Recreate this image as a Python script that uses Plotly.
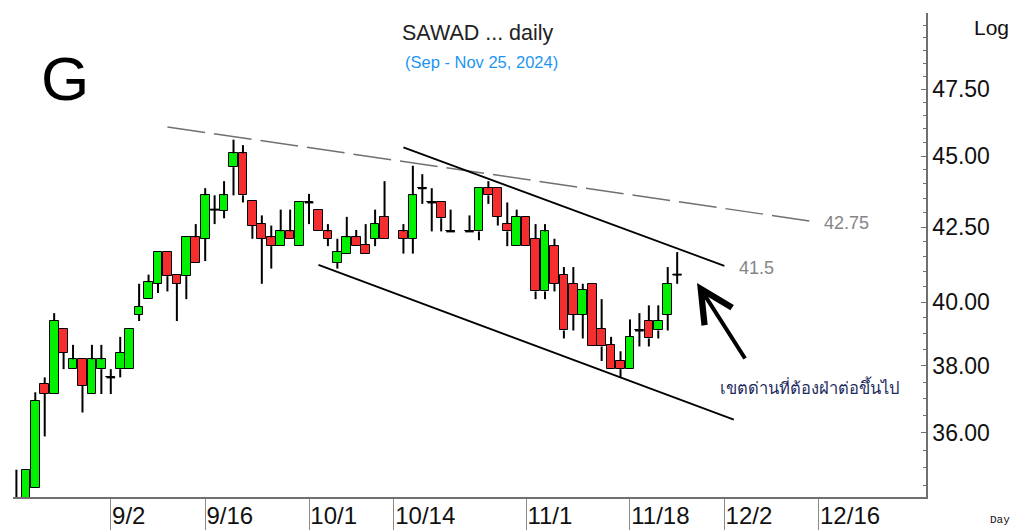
import numpy as np
import plotly.graph_objects as go

# ---------------- data ----------------
dates = [
    "2024-08-19", "2024-08-20", "2024-08-21", "2024-08-22", "2024-08-23",
    "2024-08-26", "2024-08-27", "2024-08-28", "2024-08-29", "2024-08-30",
    "2024-09-02", "2024-09-03", "2024-09-04", "2024-09-05", "2024-09-06",
    "2024-09-09", "2024-09-10", "2024-09-11", "2024-09-12", "2024-09-13",
    "2024-09-16", "2024-09-17", "2024-09-18", "2024-09-19", "2024-09-20",
    "2024-09-23", "2024-09-24", "2024-09-25", "2024-09-26", "2024-09-27",
    "2024-09-30", "2024-10-01", "2024-10-02", "2024-10-03", "2024-10-04",
    "2024-10-07", "2024-10-08", "2024-10-09", "2024-10-10", "2024-10-11",
    "2024-10-15", "2024-10-16", "2024-10-17", "2024-10-18", "2024-10-21",
    "2024-10-22", "2024-10-24", "2024-10-25", "2024-10-28", "2024-10-29",
    "2024-10-30", "2024-10-31", "2024-11-01", "2024-11-04", "2024-11-05",
    "2024-11-06", "2024-11-07", "2024-11-08", "2024-11-11", "2024-11-12",
    "2024-11-13", "2024-11-14", "2024-11-15", "2024-11-18", "2024-11-19",
    "2024-11-20", "2024-11-21", "2024-11-22", "2024-11-25",
]
open_ = [
    33.75, 34.00, 34.45, 37.45, 37.15, 39.15, 37.90, 38.20, 37.15, 37.90,
    37.65, 37.90, 37.90, 39.60, 40.10, 40.60, 41.65, 40.90, 40.85, 42.15,
    42.10, 43.10, 43.05, 44.60, 45.10, 43.40, 42.60, 42.15, 41.85, 42.35,
    41.85, 43.35, 43.10, 42.35, 41.30, 41.60, 42.15, 41.90, 42.10, 42.85,
    42.35, 42.10, 43.85, 43.35, 43.35, 42.35, 42.35, 42.35, 43.85, 43.85,
    42.60, 41.85, 42.85, 42.10, 40.35, 41.85, 40.90, 40.60, 39.60, 40.60,
    39.15, 38.65, 38.15, 37.90, 39.10, 39.40, 39.10, 39.60, 40.90,
]
high = [
    34.95, 34.95, 37.20, 37.65, 39.65, 39.15, 38.65, 38.20, 38.65, 38.65,
    37.90, 38.90, 39.15, 40.60, 40.90, 41.65, 41.65, 40.90, 42.15, 42.60,
    43.85, 43.60, 44.10, 45.60, 45.40, 43.40, 42.90, 42.55, 43.10, 43.10,
    43.35, 43.65, 43.10, 42.60, 42.10, 42.85, 42.40, 42.60, 43.10, 44.10,
    42.60, 44.65, 44.35, 43.85, 43.35, 43.10, 42.90, 43.85, 44.10, 43.85,
    43.35, 43.10, 42.85, 42.60, 42.60, 42.10, 41.15, 41.15, 40.60, 40.60,
    40.10, 38.90, 38.45, 39.45, 39.65, 39.90, 39.90, 41.15, 41.65,
]
low = [
    33.50, 33.90, 34.45, 35.90, 37.15, 37.90, 37.90, 36.60, 37.15, 37.15,
    37.15, 37.65, 37.90, 39.40, 40.10, 40.30, 40.35, 39.40, 40.10, 41.30,
    41.35, 42.60, 42.80, 43.60, 43.35, 42.10, 40.60, 41.10, 41.85, 42.10,
    41.85, 42.60, 42.35, 41.85, 41.10, 41.60, 41.85, 41.60, 41.85, 42.10,
    41.60, 41.60, 43.30, 42.35, 42.35, 42.35, 42.35, 42.05, 43.30, 42.55,
    41.85, 41.85, 41.85, 40.10, 40.10, 40.35, 38.85, 39.10, 38.85, 38.60,
    38.15, 37.90, 37.65, 37.90, 38.60, 38.60, 38.85, 39.10, 40.60,
]
close = [
    34.00, 34.95, 36.95, 37.15, 39.40, 38.40, 38.20, 37.40, 38.20, 38.20,
    37.65, 38.40, 39.15, 39.85, 40.65, 41.65, 40.85, 40.60, 42.15, 41.30,
    43.60, 43.10, 43.60, 45.10, 43.60, 42.55, 42.10, 41.85, 42.35, 42.10,
    43.35, 43.35, 42.35, 42.10, 41.65, 42.15, 41.85, 41.60, 42.60, 42.10,
    42.10, 43.60, 43.85, 43.35, 42.80, 42.35, 42.35, 43.85, 43.60, 42.85,
    42.35, 42.85, 41.85, 40.35, 42.35, 40.60, 39.10, 39.60, 40.40, 38.60,
    38.60, 37.90, 37.90, 38.90, 39.10, 38.85, 39.40, 40.60, 40.90,
]

tick_dates = ["2024-09-02", "2024-09-16", "2024-10-01", "2024-10-14",
              "2024-11-01", "2024-11-18", "2024-12-02", "2024-12-16"]
tick_text = ["9/2", "9/16", "10/1", "10/14", "11/1", "11/18", "12/2", "12/16"]

price_ticks = [36.0, 38.0, 40.0, 42.5, 45.0, 47.5]
price_text = ["36.00", "38.00", "40.00", "42.50", "45.00", "47.50"]

# trend lines (date, price)
dashed_dates = ["2024-09-10", "2024-12-13"]
dashed_prices = [46.07, 42.71]
upper_dates = ["2024-10-15", "2024-12-02"]
upper_prices = [45.32, 41.19]
lower_dates = ["2024-10-02", "2024-12-03"]
lower_prices = [41.22, 36.39]

ORIGIN = "2024-09-02"
BODY_W = 0.92
UP_COLOR = "#00F000"
DOWN_COLOR = "#F42E2E"


def bday(ds):
    return np.busday_count(ORIGIN, np.array(ds, dtype="datetime64[D]")).tolist()


x = bday(dates)
tickpos = bday(tick_dates)

o = np.array(open_)
c = np.array(close)
h = np.array(high)
lo = np.array(low)
top = np.maximum(o, c)
bot = np.minimum(o, c)

# wick segments (above and below the body) + doji bars
wx, wy = [], []
for xi, hi, li, ti, bi in zip(x, h, lo, top, bot):
    if hi > ti:
        wx += [xi, xi, None]
        wy += [hi, ti, None]
    if li < bi:
        wx += [xi, xi, None]
        wy += [bi, li, None]
    if ti == bi:
        wx += [xi - BODY_W / 2, xi + BODY_W / 2, None]
        wy += [ti, ti, None]

fig = go.Figure()

fig.add_trace(go.Bar(
    x=x, y=(top - bot).tolist(), base=bot.tolist(), width=BODY_W,
    marker=dict(color=[UP_COLOR if ci >= oi else DOWN_COLOR for oi, ci in zip(open_, close)],
                line=dict(color="black", width=1)),
    showlegend=False, hoverinfo="skip",
))
fig.add_trace(go.Scatter(x=wx, y=wy, mode="lines",
                         line=dict(color="black", width=2),
                         showlegend=False, hoverinfo="skip"))

fig.add_trace(go.Scatter(x=bday(dashed_dates), y=dashed_prices, mode="lines",
                         line=dict(color="#707070", width=1.5, dash="38px,9px"),
                         showlegend=False, hoverinfo="skip"))
fig.add_trace(go.Scatter(x=bday(upper_dates), y=upper_prices, mode="lines",
                         line=dict(color="black", width=1.8),
                         showlegend=False, hoverinfo="skip"))
fig.add_trace(go.Scatter(x=bday(lower_dates), y=lower_prices, mode="lines",
                         line=dict(color="black", width=1.8),
                         showlegend=False, hoverinfo="skip"))

minor_vals = [v / 2 for v in range(68, 102)]

fig.update_layout(
    width=1010, height=530,
    margin=dict(l=13, r=84, t=13, b=33, autoexpand=False),
    paper_bgcolor="white", plot_bgcolor="white",
    bargap=0,
    font=dict(family="Liberation Sans, Arial, sans-serif", color="#111"),
    xaxis=dict(
        range=[-10.36, 86.36], automargin=False,
        showgrid=False, zeroline=False,
        showline=True, linecolor="#707070", linewidth=1.5,
        tickmode="array", tickvals=tickpos, ticktext=tick_text,
        ticks="outside", ticklen=33, tickcolor="#8a8a8a", tickwidth=1,
        ticklabelposition="outside right", ticklabelstandoff=-4,
        tickfont=dict(size=24, color="#111"),
    ),
    yaxis=dict(
        type="log", side="right", automargin=False,
        range=[np.log10(34.19), np.log10(50.5)],
        showgrid=False, zeroline=False,
        showline=True, linecolor="#707070", linewidth=1.5,
        tickmode="array", tickvals=price_ticks, ticktext=price_text,
        ticks="inside", ticklen=5, tickcolor="#707070",
        tickfont=dict(size=23, color="#111"),
        minor=dict(tickmode="array", tickvals=minor_vals, ticks="inside",
                   ticklen=3, tickcolor="#707070"),
    ),
)

annos = [
    dict(text="SAWAD ... daily", x=0.5093, y=0.9587, font=dict(size=21.5, color="#222")),
    dict(text="(Sep - Nov 25, 2024)", x=0.5126, y=0.8988, font=dict(size=16.5, color="#1E96F0")),
    dict(text="G", x=0.057, y=0.8657, font=dict(size=62, color="black")),
    dict(text="Log", x=1.0715, y=0.971, font=dict(size=21, color="#111")),
    dict(text="Day", x=1.081, y=-0.047,
         font=dict(size=11, color="#111", family="Liberation Mono, Courier New, monospace")),
    dict(text="42.75", x=0.886, y=0.566, xanchor="left", font=dict(size=18, color="#858585")),
    dict(text="41.5", x=0.793, y=0.473, xanchor="left", font=dict(size=18, color="#858585")),
    dict(text="เขตด่านที่ต้องฝ่าต่อขึ้นไป", x=0.772, y=0.229, xanchor="left",
         font=dict(size=16.5, color="#1c2a5c")),
]
for a in annos:
    a.setdefault("xanchor", "center")
    fig.add_annotation(xref="paper", yref="paper", showarrow=False, yanchor="middle", **a)

fig.add_annotation(xref="paper", yref="paper", x=0.7492, y=0.4421, ax=49, ay=77,
                   text="", showarrow=True, arrowhead=5, arrowsize=1.6,
                   arrowwidth=4, arrowcolor="black")

fig.write_html("out.html", config={"displayModeBar": False},
               post_script="document.body.style.margin='0px';")
